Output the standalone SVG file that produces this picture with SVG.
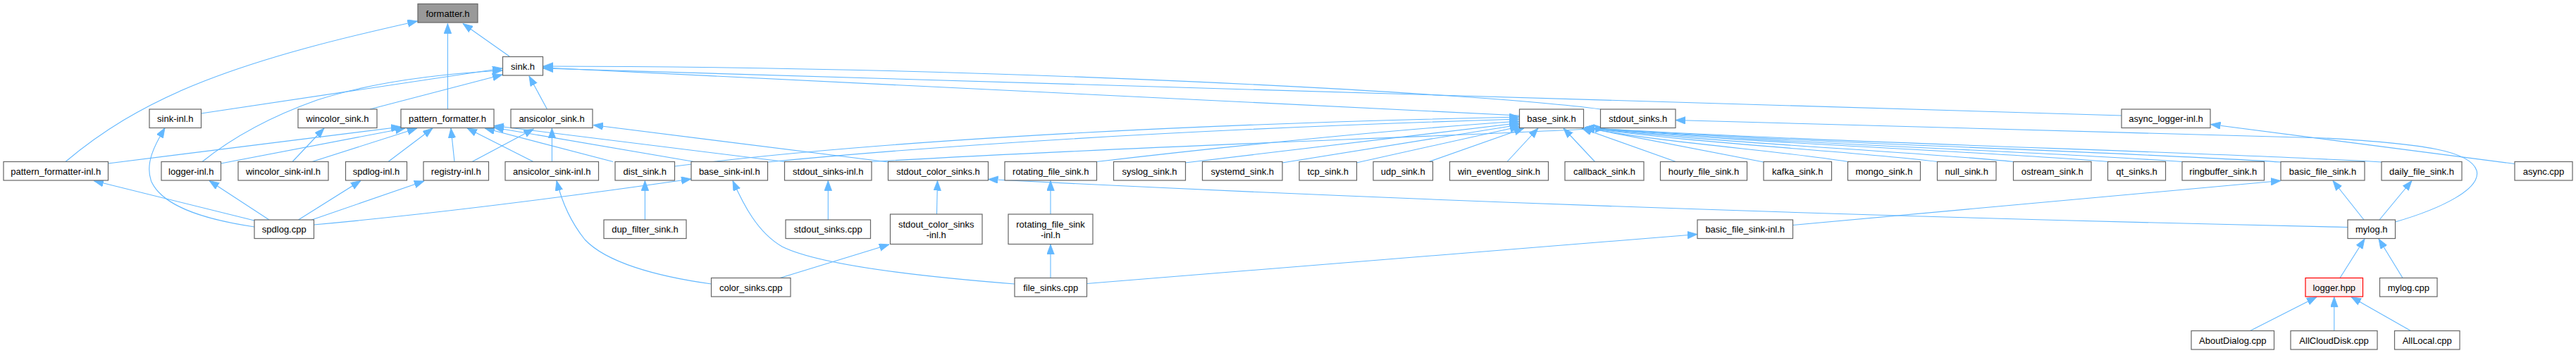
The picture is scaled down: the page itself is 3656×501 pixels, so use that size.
<svg xmlns="http://www.w3.org/2000/svg" width="3656" height="501" viewBox="0 0 3656 501">
<style>
.n rect{fill:#fff;stroke:#666;stroke-width:1.2}
.n text{font-family:"Liberation Sans",Arial,Helvetica,sans-serif;font-size:13px;text-anchor:middle;fill:#000}
.root rect{fill:#999}
.hl rect{fill:#fff0f0;stroke:#f00}
.e path{fill:none;stroke:#63b8ff;stroke-width:1.1;marker-end:url(#ah)}
</style>
<defs>
<marker id="ah" markerUnits="userSpaceOnUse" markerWidth="15" markerHeight="11" refX="14" refY="5.25" orient="auto">
<path d="M0,0 L14,5.25 L0,10.5 z" fill="#63b8ff" stroke="#63b8ff" stroke-width="0.8"/>
</marker>
</defs>
<rect width="3656" height="501" fill="#fff"/>
<g id="connectors" class="e">
<path d="M723,80 L657,33.5"/>
<path d="M635.4,155 L635.4,33.5"/>
<path d="M93,229.5 C140,190 200,150 290,115 C380,80 480,55 592.5,30"/>
<path d="M285.5,161 L713,97"/>
<path d="M287,229.5 C330,195 385,165 450,142 C530,116 620,105 713,100"/>
<path d="M525,155 L713,106"/>
<path d="M776.5,155 L751,108"/>
<path d="M2156.5,164 L771,96"/>
<path d="M2271.5,155 C2100,132 1400,94 771,94"/>
<path d="M3011,164 L771,97"/>
<path d="M783.4,229.5 L783.4,182"/>
<path d="M670,229.5 L757.5,183"/>
<path d="M1260.5,230 L842,177.5"/>
<path d="M415,229.5 L460,182"/>
<path d="M153.5,232 L569,180"/>
<path d="M313.5,232 L575,182"/>
<path d="M443,229.5 L592,182"/>
<path d="M551,229.5 L614,182"/>
<path d="M645,229.5 L640,182"/>
<path d="M757,229.5 L663,182"/>
<path d="M870,229.5 L688,182"/>
<path d="M985,229.5 L701,181"/>
<path d="M1113.5,229.5 L701,178.5"/>
<path d="M957.5,236 C1200,205 1600,178 2156.5,166"/>
<path d="M1089.5,230 C1350,205 1700,183 2156.5,169"/>
<path d="M1556.5,229.5 C1750,207 1950,186 2156.5,172"/>
<path d="M1682,231 L2156.5,174.5"/>
<path d="M1820,231 L2156.5,177"/>
<path d="M1925,231 L2157,179.5"/>
<path d="M2028,229.5 L2163,182"/>
<path d="M2139,229.5 L2183,182"/>
<path d="M2263.5,229.5 L2219,182"/>
<path d="M2378.5,229.5 L2245,182"/>
<path d="M2503,230 L2249,181"/>
<path d="M2622.5,229.5 C2529,214 2361,203 2249,181"/>
<path d="M2749.5,229.5 C2624,214 2399,203 2249,181"/>
<path d="M2857.5,229.5 C2705,214 2432,203 2249,181"/>
<path d="M2991.5,229.5 C2806,214 2472,203 2249,181"/>
<path d="M3097,229.5 C2885,214 2503,203 2249,181"/>
<path d="M3237,230 C2990,214 2545,203 2249,181"/>
<path d="M3380,230 C3097,214 2588,203 2249,181"/>
<path d="M1237,229.5 C1600,208 2000,196 2278,182"/>
<path d="M3399.5,315 C3465,296 3522,268 3515,242 C3506,214 3440,204 3300,196 L2378,170.5"/>
<path d="M3569,232.5 L3137.5,176.5"/>
<path d="M3332,322.5 Q2300,300 1402.5,254.5"/>
<path d="M3355,312 L3311,256.5"/>
<path d="M3377,312 L3423,256.5"/>
<path d="M2544.5,319.5 L3237,256.5"/>
<path d="M1542.5,402.5 L2409,332.5"/>
<path d="M1491,394.5 L1491,347"/>
<path d="M1440,403 C1300,392 1160,375 1110,350 C1075,330 1055,290 1040,256.5"/>
<path d="M1491,304 L1491,256.5"/>
<path d="M1329.5,304 L1330.5,256.5"/>
<path d="M1107,394.5 L1262,347"/>
<path d="M1009.5,403 C930,392 860,372 830,340 C810,315 797,285 790,256.5"/>
<path d="M1175.3,312 L1175.3,256.5"/>
<path d="M915.4,312 L915.4,256.5"/>
<path d="M361,322 C280,310 230,290 215,258 C205,232 220,205 234,181.5"/>
<path d="M361,313 L133,256.5"/>
<path d="M382,312 L297,256.5"/>
<path d="M423.5,312 L512,256.5"/>
<path d="M442.5,312 L602,257"/>
<path d="M445.5,319 C600,305 800,280 981,254"/>
<path d="M3321,394.5 L3356,339"/>
<path d="M3410,394.5 L3376,339"/>
<path d="M3193.5,469.5 L3288,421.5"/>
<path d="M3312.8,469.5 L3312.8,421.5"/>
<path d="M3421.5,469.5 L3337,421.5"/>
</g>
<g id="formatter_h" class="n root"><rect x="593" y="5.5" width="85" height="26.5"/><text x="635.5" y="23.5">formatter.h</text></g>
<g id="sink_h" class="n"><rect x="713.5" y="80.5" width="57" height="26.5"/><text x="742" y="98.5">sink.h</text></g>
<g id="sink_inl_h" class="n"><rect x="212" y="155" width="73.5" height="26.5"/><text x="248.75" y="173">sink-inl.h</text></g>
<g id="wincolor_sink_h" class="n"><rect x="423" y="155" width="112" height="26.5"/><text x="479" y="173">wincolor_sink.h</text></g>
<g id="pattern_formatter_h" class="n"><rect x="569" y="155" width="132" height="26.5"/><text x="635" y="173">pattern_formatter.h</text></g>
<g id="ansicolor_sink_h" class="n"><rect x="725" y="155" width="116" height="26.5"/><text x="783" y="173">ansicolor_sink.h</text></g>
<g id="base_sink_h" class="n"><rect x="2156.5" y="155" width="91" height="26.5"/><text x="2202" y="173">base_sink.h</text></g>
<g id="stdout_sinks_h" class="n"><rect x="2271.5" y="155" width="106.5" height="26.5"/><text x="2324.75" y="173">stdout_sinks.h</text></g>
<g id="async_logger_inl_h" class="n"><rect x="3011" y="155" width="126" height="26.5"/><text x="3074" y="173">async_logger-inl.h</text></g>
<g id="pattern_formatter_inl_h" class="n"><rect x="5" y="229.5" width="148.5" height="26.5"/><text x="79.25" y="247.5">pattern_formatter-inl.h</text></g>
<g id="logger_inl_h" class="n"><rect x="229" y="229.5" width="84.5" height="26.5"/><text x="271.25" y="247.5">logger-inl.h</text></g>
<g id="wincolor_sink_inl_h" class="n"><rect x="338" y="229.5" width="128" height="26.5"/><text x="402" y="247.5">wincolor_sink-inl.h</text></g>
<g id="spdlog_inl_h" class="n"><rect x="490.5" y="229.5" width="87" height="26.5"/><text x="534" y="247.5">spdlog-inl.h</text></g>
<g id="registry_inl_h" class="n"><rect x="601" y="229.5" width="92.5" height="26.5"/><text x="647.25" y="247.5">registry-inl.h</text></g>
<g id="ansicolor_sink_inl_h" class="n"><rect x="717" y="229.5" width="132.5" height="26.5"/><text x="783.25" y="247.5">ansicolor_sink-inl.h</text></g>
<g id="dist_sink_h" class="n"><rect x="873" y="229.5" width="84.5" height="26.5"/><text x="915.25" y="247.5">dist_sink.h</text></g>
<g id="base_sink_inl_h" class="n"><rect x="981" y="229.5" width="108.5" height="26.5"/><text x="1035.25" y="247.5">base_sink-inl.h</text></g>
<g id="stdout_sinks_inl_h" class="n"><rect x="1113.5" y="229.5" width="123.5" height="26.5"/><text x="1175.25" y="247.5">stdout_sinks-inl.h</text></g>
<g id="stdout_color_sinks_h" class="n"><rect x="1260.5" y="229.5" width="142" height="26.5"/><text x="1331.5" y="247.5">stdout_color_sinks.h</text></g>
<g id="rotating_file_sink_h" class="n"><rect x="1426" y="229.5" width="130.5" height="26.5"/><text x="1491.25" y="247.5">rotating_file_sink.h</text></g>
<g id="syslog_sink_h" class="n"><rect x="1580.5" y="229.5" width="102" height="26.5"/><text x="1631.5" y="247.5">syslog_sink.h</text></g>
<g id="systemd_sink_h" class="n"><rect x="1706.5" y="229.5" width="113.5" height="26.5"/><text x="1763.25" y="247.5">systemd_sink.h</text></g>
<g id="tcp_sink_h" class="n"><rect x="1844" y="229.5" width="81.5" height="26.5"/><text x="1884.75" y="247.5">tcp_sink.h</text></g>
<g id="udp_sink_h" class="n"><rect x="1949" y="229.5" width="84.5" height="26.5"/><text x="1991.25" y="247.5">udp_sink.h</text></g>
<g id="win_eventlog_sink_h" class="n"><rect x="2057.5" y="229.5" width="140" height="26.5"/><text x="2127.5" y="247.5">win_eventlog_sink.h</text></g>
<g id="callback_sink_h" class="n"><rect x="2221" y="229.5" width="112" height="26.5"/><text x="2277" y="247.5">callback_sink.h</text></g>
<g id="hourly_file_sink_h" class="n"><rect x="2356.5" y="229.5" width="123" height="26.5"/><text x="2418" y="247.5">hourly_file_sink.h</text></g>
<g id="kafka_sink_h" class="n"><rect x="2503" y="229.5" width="96.5" height="26.5"/><text x="2551.25" y="247.5">kafka_sink.h</text></g>
<g id="mongo_sink_h" class="n"><rect x="2622.5" y="229.5" width="103" height="26.5"/><text x="2674" y="247.5">mongo_sink.h</text></g>
<g id="null_sink_h" class="n"><rect x="2749.5" y="229.5" width="83.5" height="26.5"/><text x="2791.25" y="247.5">null_sink.h</text></g>
<g id="ostream_sink_h" class="n"><rect x="2857.5" y="229.5" width="110.5" height="26.5"/><text x="2912.75" y="247.5">ostream_sink.h</text></g>
<g id="qt_sinks_h" class="n"><rect x="2991.5" y="229.5" width="82" height="26.5"/><text x="3032.5" y="247.5">qt_sinks.h</text></g>
<g id="ringbuffer_sink_h" class="n"><rect x="3097" y="229.5" width="116.5" height="26.5"/><text x="3155.25" y="247.5">ringbuffer_sink.h</text></g>
<g id="basic_file_sink_h" class="n"><rect x="3237" y="229.5" width="119" height="26.5"/><text x="3296.5" y="247.5">basic_file_sink.h</text></g>
<g id="daily_file_sink_h" class="n"><rect x="3380" y="229.5" width="114" height="26.5"/><text x="3437" y="247.5">daily_file_sink.h</text></g>
<g id="async_cpp" class="n"><rect x="3569" y="229.5" width="82" height="26.5"/><text x="3610" y="247.5">async.cpp</text></g>
<g id="spdlog_cpp" class="n"><rect x="361" y="312" width="84.5" height="26.5"/><text x="403.25" y="330">spdlog.cpp</text></g>
<g id="dup_filter_sink_h" class="n"><rect x="857" y="312" width="117" height="26.5"/><text x="915.5" y="330">dup_filter_sink.h</text></g>
<g id="stdout_sinks_cpp" class="n"><rect x="1115" y="312" width="120.5" height="26.5"/><text x="1175.25" y="330">stdout_sinks.cpp</text></g>
<g id="stdout_color_sinks_inl_h" class="n"><rect x="1263.5" y="304" width="130.5" height="42.5"/><text x="1328.75" y="322.5">stdout_color_sinks</text><text x="1328.75" y="338">-inl.h</text></g>
<g id="rotating_file_sink_inl_h" class="n"><rect x="1431" y="304" width="120" height="42.5"/><text x="1491" y="322.5">rotating_file_sink</text><text x="1491" y="338">-inl.h</text></g>
<g id="basic_file_sink_inl_h" class="n"><rect x="2409" y="312" width="135.5" height="26.5"/><text x="2476.75" y="330">basic_file_sink-inl.h</text></g>
<g id="mylog_h" class="n"><rect x="3332" y="312" width="67.5" height="26.5"/><text x="3365.75" y="330">mylog.h</text></g>
<g id="color_sinks_cpp" class="n"><rect x="1009.5" y="394.5" width="112.5" height="26.5"/><text x="1065.75" y="412.5">color_sinks.cpp</text></g>
<g id="file_sinks_cpp" class="n"><rect x="1440" y="394.5" width="102.5" height="26.5"/><text x="1491.25" y="412.5">file_sinks.cpp</text></g>
<g id="logger_hpp" class="n hl"><rect x="3272" y="394.5" width="81.5" height="26.5"/><text x="3312.75" y="412.5">logger.hpp</text></g>
<g id="mylog_cpp" class="n"><rect x="3377.5" y="394.5" width="81.5" height="26.5"/><text x="3418.25" y="412.5">mylog.cpp</text></g>
<g id="AboutDialog_cpp" class="n"><rect x="3110" y="469.5" width="117.5" height="26.5"/><text x="3168.75" y="487.5">AboutDialog.cpp</text></g>
<g id="AllCloudDisk_cpp" class="n"><rect x="3251" y="469.5" width="123" height="26.5"/><text x="3312.5" y="487.5">AllCloudDisk.cpp</text></g>
<g id="AllLocal_cpp" class="n"><rect x="3398.5" y="469.5" width="92.5" height="26.5"/><text x="3444.75" y="487.5">AllLocal.cpp</text></g>
</svg>
